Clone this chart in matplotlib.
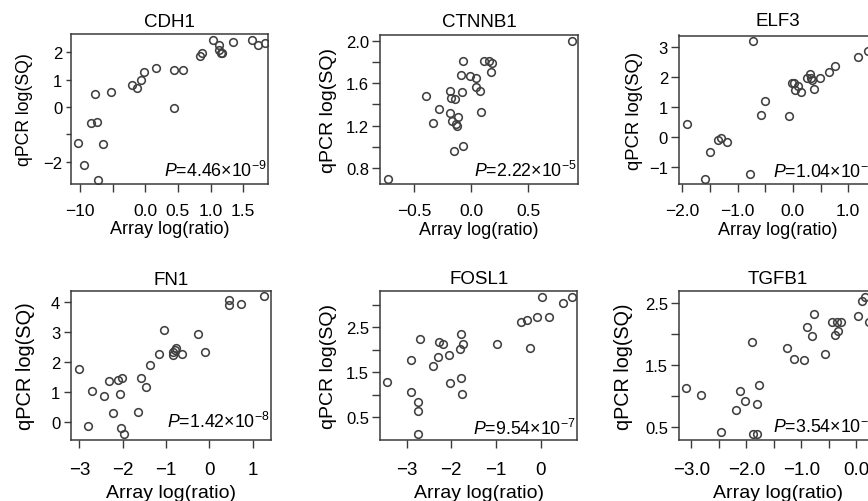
import matplotlib
matplotlib.use("Agg")
import matplotlib.pyplot as plt

plt.rcParams['font.family'] = ['Liberation Sans', 'DejaVu Sans']
plt.rcParams['mathtext.fontset'] = 'custom'
plt.rcParams['mathtext.rm'] = 'Liberation Sans'
plt.rcParams['mathtext.it'] = 'Liberation Sans:italic'

# ---------------- data ----------------
cdh1_x = [-1.026, -0.933, -0.836, -0.774, -0.733, -0.723, -0.651, -0.523, -0.200, -0.133,
          -0.072, -0.026, 0.169, 0.441, 0.436, 0.579, 0.846, 0.862, 1.036, 1.123,
          1.123, 1.154, 1.169, 1.349, 1.641, 1.728, 1.831]
cdh1_y = [-1.31, -2.14, -0.575, 0.465, -0.54, -2.66, -1.36, 0.563, 0.81, 0.685,
          1.00, 1.285, 1.444, 1.359, -0.024, 1.359, 1.873, 1.97, 2.436, 2.277,
          2.09, 1.97, 1.96, 2.36, 2.436, 2.277, 2.35]

ctnnb1_x = [-0.731, -0.398, -0.330, -0.281, -0.187, -0.181, -0.173, -0.137, -0.164, -0.129,
            -0.120, -0.111, -0.149, -0.091, -0.082, -0.067, -0.073, -0.006, 0.044, 0.044,
            0.079, 0.088, 0.111, 0.158, 0.187, 0.178, 0.889]
ctnnb1_y = [0.70, 1.477, 1.223, 1.358, 1.32, 1.53, 1.461, 1.455, 1.242, 1.217,
            1.20, 1.282, 0.966, 1.677, 1.514, 1.812, 1.01, 1.671, 1.646, 1.561,
            1.527, 1.326, 1.806, 1.812, 1.79, 1.702, 1.994]

elf3_x = [-1.92, -1.59, -1.506, -1.349, -1.295, -1.193, -0.771, -0.717, -0.578, -0.50,
          -0.078, -0.012, 0.018, 0.036, 0.096, 0.139, 0.247, 0.313, 0.319, 0.349,
          0.386, 0.482, 0.651, 0.753, 1.181, 1.355]
elf3_y = [0.433, -1.40, -0.50, -0.10, -0.011, -0.144, -1.222, 3.20, 0.756, 1.20,
          0.711, 1.80, 1.80, 1.578, 1.722, 1.50, 1.967, 2.111, 1.989, 1.922,
          1.622, 1.967, 2.178, 2.378, 2.667, 2.867]

fn1_x = [-3.015, -2.792, -2.70, -2.438, -2.323, -2.215, -2.10, -2.054, -2.015, -2.03,
         -1.969, -1.646, -1.569, -1.454, -1.362, -1.162, -1.038, -0.846, -0.831, -0.80,
         -0.769, -0.638, -0.254, -0.092, 0.446, 0.446, 0.731, 1.262]
fn1_y = [1.78, -0.146, 1.019, 0.851, 1.366, 0.291, 1.41, 0.929, 1.478, -0.224,
         -0.403, 0.336, 1.478, 1.165, 1.915, 2.284, 3.08, 2.318, 2.228, 2.407,
         2.452, 2.284, 2.934, 2.318, 4.076, 3.908, 3.94, 4.22]

fosl1_x = [-3.433, -2.903, -2.896, -2.754, -2.746, -2.739, -2.701, -2.418, -2.306, -2.276,
           -2.179, -2.045, -2.03, -1.791, -1.806, -1.791, -1.754, -1.731, -0.985, -0.44,
           -0.299, -0.239, -0.09, 0.022, 0.187, 0.507, 0.709]
fosl1_y = [1.293, 1.781, 1.07, 0.848, 0.633, 0.13, 2.233, 1.648, 1.848, 2.181,
           2.13, 1.878, 1.256, 2.344, 2.011, 1.374, 1.019, 2.122, 2.137, 2.626,
           2.656, 2.041, 2.737, 3.181, 2.737, 3.033, 3.181]

tgfb1_x = [-3.091, -2.824, -2.455, -2.182, -2.109, -2.018, -1.897, -1.885, -1.812, -1.806,
           -1.77, -1.267, -1.133, -0.945, -0.903, -0.812, -0.776, -0.564, -0.436, -0.394,
           -0.345, -0.333, -0.273, 0.024, 0.103, 0.164, 0.224]
tgfb1_y = [1.122, 1.008, 0.414, 0.765, 1.084, 0.916, 1.868, 0.386, 0.381, 0.862,
           1.176, 1.77, 1.597, 1.586, 2.122, 1.976, 2.327, 1.678, 2.192, 1.986,
           2.192, 2.046, 2.192, 2.30, 2.532, 2.608, 2.203]

titles = ["CDH1", "CTNNB1", "ELF3", "FN1", "FOSL1", "TGFB1"]
pvals = ["4.46", "2.22", "1.04", "1.42", "9.54", "3.54"]
pexps = ["\u22129", "\u22125", "\u22127", "\u22128", "\u22127", "\u22127"]

xticks = [[-1.0, -0.5, 0.0, 0.5, 1.0, 1.5],
          [-0.5, 0.0, 0.5],
          [-2.0, -1.5, -1.0, -0.5, 0.0, 0.5, 1.0, 1.5],
          [-3, -2, -1, 0, 1],
          [-3, -2, -1, 0],
          [-3.0, -2.5, -2.0, -1.5, -1.0, -0.5, 0.0]]
xticklabels = [["\u221210", "", "0.0", "0.5", "1.0", "1.5"],
               ["\u22120.5", "0.0", "0.5"],
               ["\u22122.0", "", "\u22121.0", "", "0.0", "", "1.0", ""],
               ["\u22123", "\u22122", "\u22121", "0", "1"],
               ["\u22123", "\u22122", "\u22121", "0"],
               ["\u22123.0", "", "\u22122.0", "", "\u22121.0", "", "0.0"]]
yticks = [[-2, -1, 0, 1, 2],
          [0.8, 1.0, 1.2, 1.4, 1.6, 1.8, 2.0],
          [-1, 0, 1, 2, 3],
          [0, 1, 2, 3, 4],
          [0.5, 1.0, 1.5, 2.0, 2.5, 3.0],
          [0.5, 1.0, 1.5, 2.0, 2.5]]
yticklabels = [["\u22122", "", "0", "1", "2"],
               ["0.8", "", "1.2", "", "1.6", "", "2.0"],
               ["\u22121", "0", "1", "2", "3"],
               ["0", "1", "2", "3", "4"],
               ["0.5", "", "1.5", "", "2.5", ""],
               ["0.5", "", "1.5", "", "2.5"]]
xlims = [(-1.143, 1.885), (-0.798, 0.94), (-2.06, 1.52),
         (-3.2, 1.415), (-3.597, 0.821), (-3.224, 0.376)]
ylims = [(-2.8, 2.67), (0.653, 2.053), (-1.556, 3.39),
         (-0.616, 4.39), (0.0, 3.3), (0.284, 2.695)]

xs = [cdh1_x, ctnnb1_x, elf3_x, fn1_x, fosl1_x, tgfb1_x]
ys = [cdh1_y, ctnnb1_y, elf3_y, fn1_y, fosl1_y, tgfb1_y]

# ---------------- layout (pixels) ----------------
W, H = 868, 502
PX = 72.0 / 100.0  # points per pixel
fig = plt.figure(figsize=(W / 100, H / 100), dpi=100)

# left, top, right, bottom
boxes = [(70.7, 35.0, 268.3, 184.5), (380, 36.0, 578.3, 185.0), (679, 36.5, 877, 185.0),
         (70.7, 291.7, 270.7, 441), (380, 292.3, 577.3, 441), (679, 292.3, 877, 441)]
ylab_gap = [37.4, 43.3, 36.0, 35.7, 43.3, 46.0]      # axes left -> right edge of ylabel
ylab_size = [12.7, 14.0, 13.3, 14.4, 14.0, 14.2]
xlab_gap = [37.0, 37.0, 37.0, 44.0, 44.0, 44.0]      # axes bottom -> top of xlabel
xlab_size = [13.0, 13.0, 13.0, 14.0, 14.0, 14.0]
xtick_size = [12.5, 12.5, 12.5, 13.5, 13.5, 13.5]
xtick_pad = [11.5, 11.5, 11.5, 13.5, 13.5, 13.5]
ytick_len = [5.5, 8, 8, 7.5, 8, 8]
p_base = [7.8, 7.8, 6.7, 13.0, 6.0, 8.0]
title_pad = [8.0, 9.3, 10.0, 6.7, 8.0, 8.0]

frame_col = "#3a3a3a"
for i in range(6):
    l, t, r, b = boxes[i]
    w, h = r - l, b - t
    ax = fig.add_axes([l / W, 1 - b / H, w / W, h / H])
    ax.plot(xs[i], ys[i], linestyle="none", marker="o", markersize=5.5,
            markerfacecolor="none", markeredgecolor="#404040", markeredgewidth=1.15)
    ax.set_xlim(*xlims[i])
    ax.set_ylim(*ylims[i])
    ax.set_xticks(xticks[i])
    ax.set_xticklabels(xticklabels[i])
    ax.set_yticks(yticks[i])
    ax.set_yticklabels(yticklabels[i])
    for s in ax.spines.values():
        s.set_color(frame_col)
        s.set_linewidth(1.1)
    ax.tick_params(axis="x", direction="out", length=8 * PX, width=1.0, color=frame_col,
                   labelsize=xtick_size[i], pad=xtick_pad[i] * PX)
    ax.tick_params(axis="y", direction="out", length=ytick_len[i] * PX, width=1.0,
                   color=frame_col, labelsize=12.0, pad=3 * PX)
    ax.set_title(titles[i], fontsize=13.5, pad=title_pad[i] * PX)
    ax.set_xlabel("Array log(ratio)", fontsize=xlab_size[i])
    ax.xaxis.set_label_coords(0.5, -xlab_gap[i] / h)
    ax.set_ylabel("qPCR log(SQ)", fontsize=ylab_size[i])
    ax.yaxis.set_label_coords(-ylab_gap[i] / w, 0.5)
    ax.text(1 - 1.5 / w, p_base[i] / h,
            r"$\it{P}$" + "=" + pvals[i] + "\u00d710" + r"$^{" + pexps[i] + "}$",
            transform=ax.transAxes, ha="right", va="baseline", fontsize=12.8)

fig.savefig("out.png", dpi=100)
